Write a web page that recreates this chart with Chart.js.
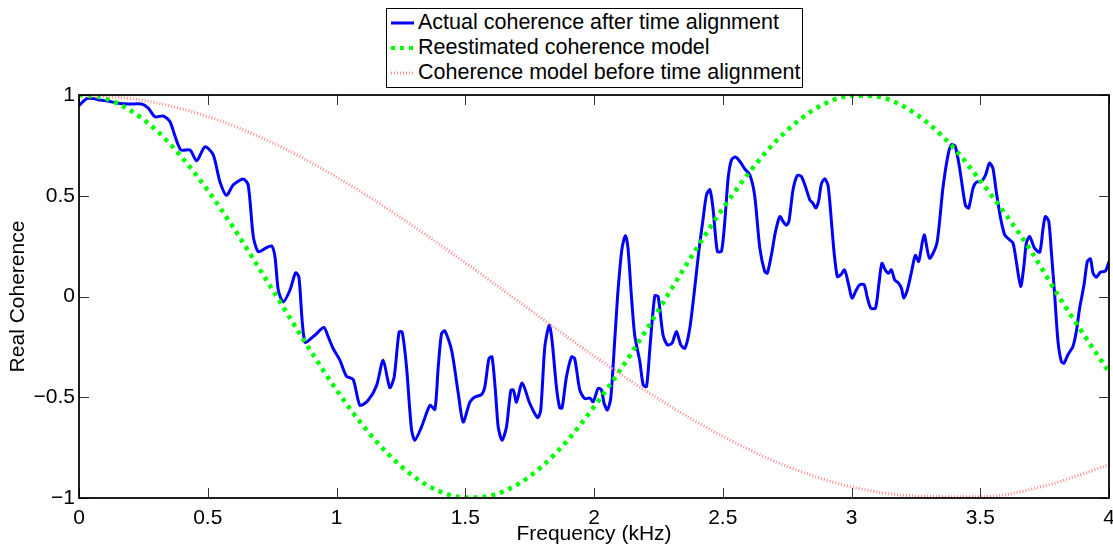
<!DOCTYPE html>
<html lang="en">
  <head>
    <meta charset="UTF-8" />
    <title>Real Coherence</title>
    <script src="https://cdn.jsdelivr.net/npm/chart.js"></script>
    <style>
      body { margin: 0; background: #fff; font-family: "Liberation Sans", Arial, sans-serif; }
      #wrap { position: relative; width: 1113px; height: 547px; }
      #legend {
        position: absolute; left: 386px; top: 8px; width: 415px; height: 77px;
        border: 1px solid #000; background: #fff; padding-top: 1px; box-sizing: content-box;
      }
      .row { height: 25px; display: flex; align-items: center; font-size: 21.5px; color: #000; white-space: nowrap; }
      .row svg { margin-left: 4px; margin-right: 4px; }
    </style>
  </head>
  <body>
    <div id="wrap">
      <canvas id="coh"></canvas>
      <div id="legend">
        <div class="row"><svg width="23" height="8"><line x1="0" y1="4" x2="23" y2="4" stroke="#0000ff" stroke-width="3" /></svg>Actual coherence after time alignment</div>
        <div class="row"><svg width="23" height="8"><line x1="0" y1="4" x2="23" y2="4" stroke="#00ff00" stroke-width="4" stroke-dasharray="4 5" /></svg>Reestimated coherence model</div>
        <div class="row"><svg width="23" height="8"><line x1="0" y1="4" x2="23" y2="4" stroke="#ff8c8c" stroke-width="3" stroke-dasharray="1 2" /></svg>Coherence model before time alignment</div>
      </div>
    </div>

    <script>
      // measured curve (kHz, real coherence)
      const actualFreq = [
        0.000, 0.030, 0.056, 0.082, 0.114, 0.153, 0.191, 0.243, 0.269, 0.295, 0.327, 0.353, 0.373, 0.396, 0.431,
        0.457, 0.489, 0.521, 0.547, 0.573, 0.599, 0.638, 0.657, 0.677, 0.696, 0.722, 0.748, 0.761, 0.774, 0.793,
        0.819, 0.841, 0.854, 0.877, 0.916, 0.951, 0.968, 0.987, 1.013, 1.039, 1.065, 1.091, 1.123, 1.156, 1.181,
        1.207, 1.224, 1.243, 1.255, 1.272, 1.291, 1.304, 1.330, 1.363, 1.382, 1.395, 1.408, 1.421, 1.447, 1.473,
        1.492, 1.518, 1.537, 1.563, 1.576, 1.592, 1.604, 1.618, 1.628, 1.643, 1.660, 1.677, 1.687, 1.699, 1.721,
        1.751, 1.781, 1.793, 1.809, 1.826, 1.837, 1.854, 1.867, 1.876, 1.893, 1.913, 1.925, 1.945, 1.964, 1.984,
        1.997, 2.016, 2.029, 2.039, 2.052, 2.065, 2.081, 2.094, 2.109, 2.122, 2.132, 2.145, 2.158, 2.178, 2.191,
        2.204, 2.217, 2.236, 2.249, 2.268, 2.285, 2.303, 2.320, 2.337, 2.353, 2.372, 2.391, 2.407, 2.424, 2.437,
        2.450, 2.462, 2.479, 2.495, 2.508, 2.521, 2.534, 2.549, 2.566, 2.585, 2.605, 2.624, 2.644, 2.663, 2.673,
        2.689, 2.705, 2.722, 2.734, 2.747, 2.757, 2.773, 2.790, 2.805, 2.821, 2.838, 2.850, 2.861, 2.872, 2.883,
        2.896, 2.909, 2.922, 2.932, 2.945, 2.958, 2.973, 2.989, 3.002, 3.019, 3.032, 3.049, 3.062, 3.075, 3.093,
        3.106, 3.118, 3.131, 3.144, 3.155, 3.168, 3.183, 3.194, 3.203, 3.217, 3.232, 3.248, 3.261, 3.282, 3.303,
        3.330, 3.342, 3.355, 3.375, 3.388, 3.403, 3.420, 3.442, 3.455, 3.472, 3.485, 3.504, 3.520, 3.536, 3.549,
        3.562, 3.579, 3.595, 3.610, 3.627, 3.640, 3.657, 3.670, 3.679, 3.692, 3.711, 3.731, 3.744, 3.753, 3.766,
        3.776, 3.789, 3.802, 3.815, 3.825, 3.840, 3.860, 3.873, 3.886, 3.903, 3.916, 3.928, 3.938, 3.951, 3.967,
        3.986, 4.000
      ];
      const actualCoh = [
        0.947, 0.982, 0.982, 0.975, 0.969, 0.959, 0.955, 0.955, 0.935, 0.892, 0.896, 0.869, 0.795, 0.727, 0.727,
        0.674, 0.743, 0.704, 0.571, 0.502, 0.554, 0.583, 0.554, 0.296, 0.222, 0.238, 0.251, 0.197, 0.031, -0.027,
        0.031, 0.117, 0.097, -0.226, -0.192, -0.154, -0.201, -0.258, -0.316, -0.396, -0.412, -0.540, -0.515, -0.441, -0.316,
        -0.452, -0.399, -0.176, -0.176, -0.350, -0.656, -0.714, -0.648, -0.540, -0.560, -0.350, -0.184, -0.171, -0.267, -0.482,
        -0.623, -0.524, -0.499, -0.487, -0.449, -0.308, -0.300, -0.482, -0.648, -0.714, -0.648, -0.465, -0.465, -0.524, -0.429,
        -0.532, -0.601, -0.565, -0.250, -0.143, -0.217, -0.449, -0.553, -0.553, -0.399, -0.300, -0.308, -0.465, -0.507, -0.504,
        -0.522, -0.456, -0.464, -0.530, -0.563, -0.505, -0.207, 0.041, 0.240, 0.303, 0.240, 0.008, -0.191, -0.323, -0.439,
        -0.447, -0.257, 0.003, 0.000, -0.191, -0.240, -0.232, -0.174, -0.240, -0.257, -0.157, 0.041, 0.224, 0.389, 0.505,
        0.530, 0.439, 0.224, 0.224, 0.373, 0.588, 0.679, 0.692, 0.671, 0.634, 0.604, 0.500, 0.240, 0.124, 0.116,
        0.207, 0.323, 0.397, 0.373, 0.353, 0.373, 0.530, 0.601, 0.596, 0.546, 0.480, 0.463, 0.439, 0.472, 0.558,
        0.584, 0.551, 0.373, 0.224, 0.099, 0.107, 0.132, 0.058, -0.008, 0.033, 0.058, 0.058, -0.008, -0.058, -0.058,
        0.058, 0.165, 0.132, 0.116, 0.132, 0.082, 0.066, 0.041, -0.008, 0.033, 0.116, 0.204, 0.174, 0.306, 0.190,
        0.256, 0.373, 0.538, 0.703, 0.753, 0.745, 0.637, 0.455, 0.439, 0.538, 0.568, 0.571, 0.601, 0.662, 0.637,
        0.522, 0.389, 0.306, 0.286, 0.265, 0.174, 0.050, 0.157, 0.265, 0.298, 0.240, 0.220, 0.339, 0.397, 0.373,
        0.224, 0.008, -0.224, -0.323, -0.331, -0.290, -0.248, -0.174, -0.058, 0.058, 0.174, 0.187, 0.117, 0.096, 0.121,
        0.126, 0.174
      ];

      // re-estimated model
      const modelFreq = [
        0.0, 0.1, 0.2, 0.3, 0.4, 0.5, 0.6, 0.7, 0.8, 0.9, 1.0, 1.1, 1.2, 1.3, 1.4, 1.5, 1.6, 1.7, 1.8, 1.9, 2.0,
        2.1, 2.2, 2.3, 2.4, 2.5, 2.6, 2.7, 2.8, 2.9, 3.0, 3.1, 3.2, 3.3, 3.4, 3.5, 3.6, 3.7, 3.8, 3.9, 4.0
      ];
      const modelCoh = [
        1.000, 0.983, 0.923, 0.825, 0.690, 0.527, 0.341, 0.139, -0.067, -0.271, -0.464, -0.636, -0.781, -0.893, -0.967,
        -0.998, -0.988, -0.935, -0.841, -0.710, -0.547, -0.369, -0.172, 0.036, 0.242, 0.436, 0.611, 0.762, 0.879, 0.959,
        0.997, 0.992, 0.945, 0.857, 0.733, 0.575, 0.405, 0.220, 0.010, -0.185, -0.375
      ];

      // model before alignment
      const oldFreq = [0, 0.25, 0.5, 0.75, 1.0, 1.25, 1.5, 1.75, 2.0, 2.25, 2.5, 2.75, 3.0, 3.25, 3.5, 3.75, 4.0];
      const oldCoh = [1.000, 0.973, 0.893, 0.764, 0.593, 0.391, 0.168, -0.065, -0.295, -0.508, -0.694, -0.843, -0.945, -0.990, -0.994, -0.940, -0.835];

      const xTicks = [0, 0.5, 1, 1.5, 2, 2.5, 3, 3.5, 4];
      const yTicks = [-1, -0.5, 0, 0.5, 1];

      const pts = (xs, ys) => xs.map((x, i) => ({ x: x, y: ys[i] }));
      const minus = v => String(v).replace('-', '\u2212');
      const font = { family: 'Liberation Sans', size: 21 };

      // box round the axes + inward tick marks, matlab style
      const frame = {
        id: 'frame',
        afterDatasetsDraw(chart) {
          const { ctx, chartArea: a, scales: { x, y } } = chart;
          ctx.save();
          ctx.strokeStyle = '#333';
          ctx.lineWidth = 1;
          ctx.beginPath();
          xTicks.forEach(v => {
            const px = Math.round(x.getPixelForValue(v)) + 0.5;
            ctx.moveTo(px, a.bottom); ctx.lineTo(px, a.bottom - 10);
            ctx.moveTo(px, a.top); ctx.lineTo(px, a.top + 10);
          });
          yTicks.forEach(v => {
            const py = Math.round(y.getPixelForValue(v)) + 0.5;
            ctx.moveTo(a.left, py); ctx.lineTo(a.left + 10, py);
            ctx.moveTo(a.right, py); ctx.lineTo(a.right - 10, py);
          });
          ctx.stroke();
          ctx.strokeStyle = '#000';
          ctx.lineWidth = 1.75;
          ctx.strokeRect(a.left, a.top, a.right - a.left, a.bottom - a.top);
          ctx.restore();
        }
      };

      new Chart(document.getElementById('coh'), {
        type: 'line',
        data: {
          datasets: [
            {
              label: 'Actual coherence after time alignment',
              data: pts(actualFreq, actualCoh),
              borderColor: '#0000ff',
              borderWidth: 3,
              pointRadius: 0,
              tension: 0.25,
              order: 3
            },
            {
              label: 'Reestimated coherence model',
              data: pts(modelFreq, modelCoh),
              borderColor: '#00ff00',
              borderWidth: 4.5,
              borderDash: [4, 5],
              pointRadius: 0,
              cubicInterpolationMode: 'monotone',
              order: 2
            },
            {
              label: 'Coherence model before time alignment',
              data: pts(oldFreq, oldCoh),
              borderColor: '#ff8c8c',
              borderWidth: 3,
              borderDash: [1, 2],
              pointRadius: 0,
              cubicInterpolationMode: 'monotone',
              order: 1
            }
          ]
        },
        options: {
          responsive: true,
          maintainAspectRatio: false,
          animation: false,
          layout: { padding: { top: 95, right: 4, left: 0, bottom: 0 } },
          plugins: { legend: { display: false }, tooltip: { enabled: false } },
          scales: {
            x: {
              type: 'linear',
              min: 0,
              max: 4,
              afterBuildTicks: s => { s.ticks = xTicks.map(v => ({ value: v })); },
              afterFit: s => { s.height = 49; s.paddingLeft = 0; s.paddingRight = 0; },
              grid: { drawOnChartArea: false, drawTicks: false },
              border: { display: false },
              ticks: { padding: 8, color: '#000', font: font, maxRotation: 0, callback: v => minus(v) },
              title: { display: true, text: 'Frequency (kHz)', color: '#000', font: font, padding: { top: 0, bottom: 0 } }
            },
            y: {
              min: -1,
              max: 1,
              afterBuildTicks: s => { s.ticks = yTicks.map(v => ({ value: v })); },
              afterFit: s => { s.width = 79; s.paddingTop = 0; s.paddingBottom = 0; },
              grid: { drawOnChartArea: false, drawTicks: false },
              border: { display: false },
              ticks: { padding: 4, color: '#000', font: font, callback: v => minus(v) },
              title: { display: true, text: 'Real Coherence', color: '#000', font: font, padding: { top: 6, bottom: 0 } }
            }
          }
        },
        plugins: [frame]
      });
    </script>
  </body>
</html>
